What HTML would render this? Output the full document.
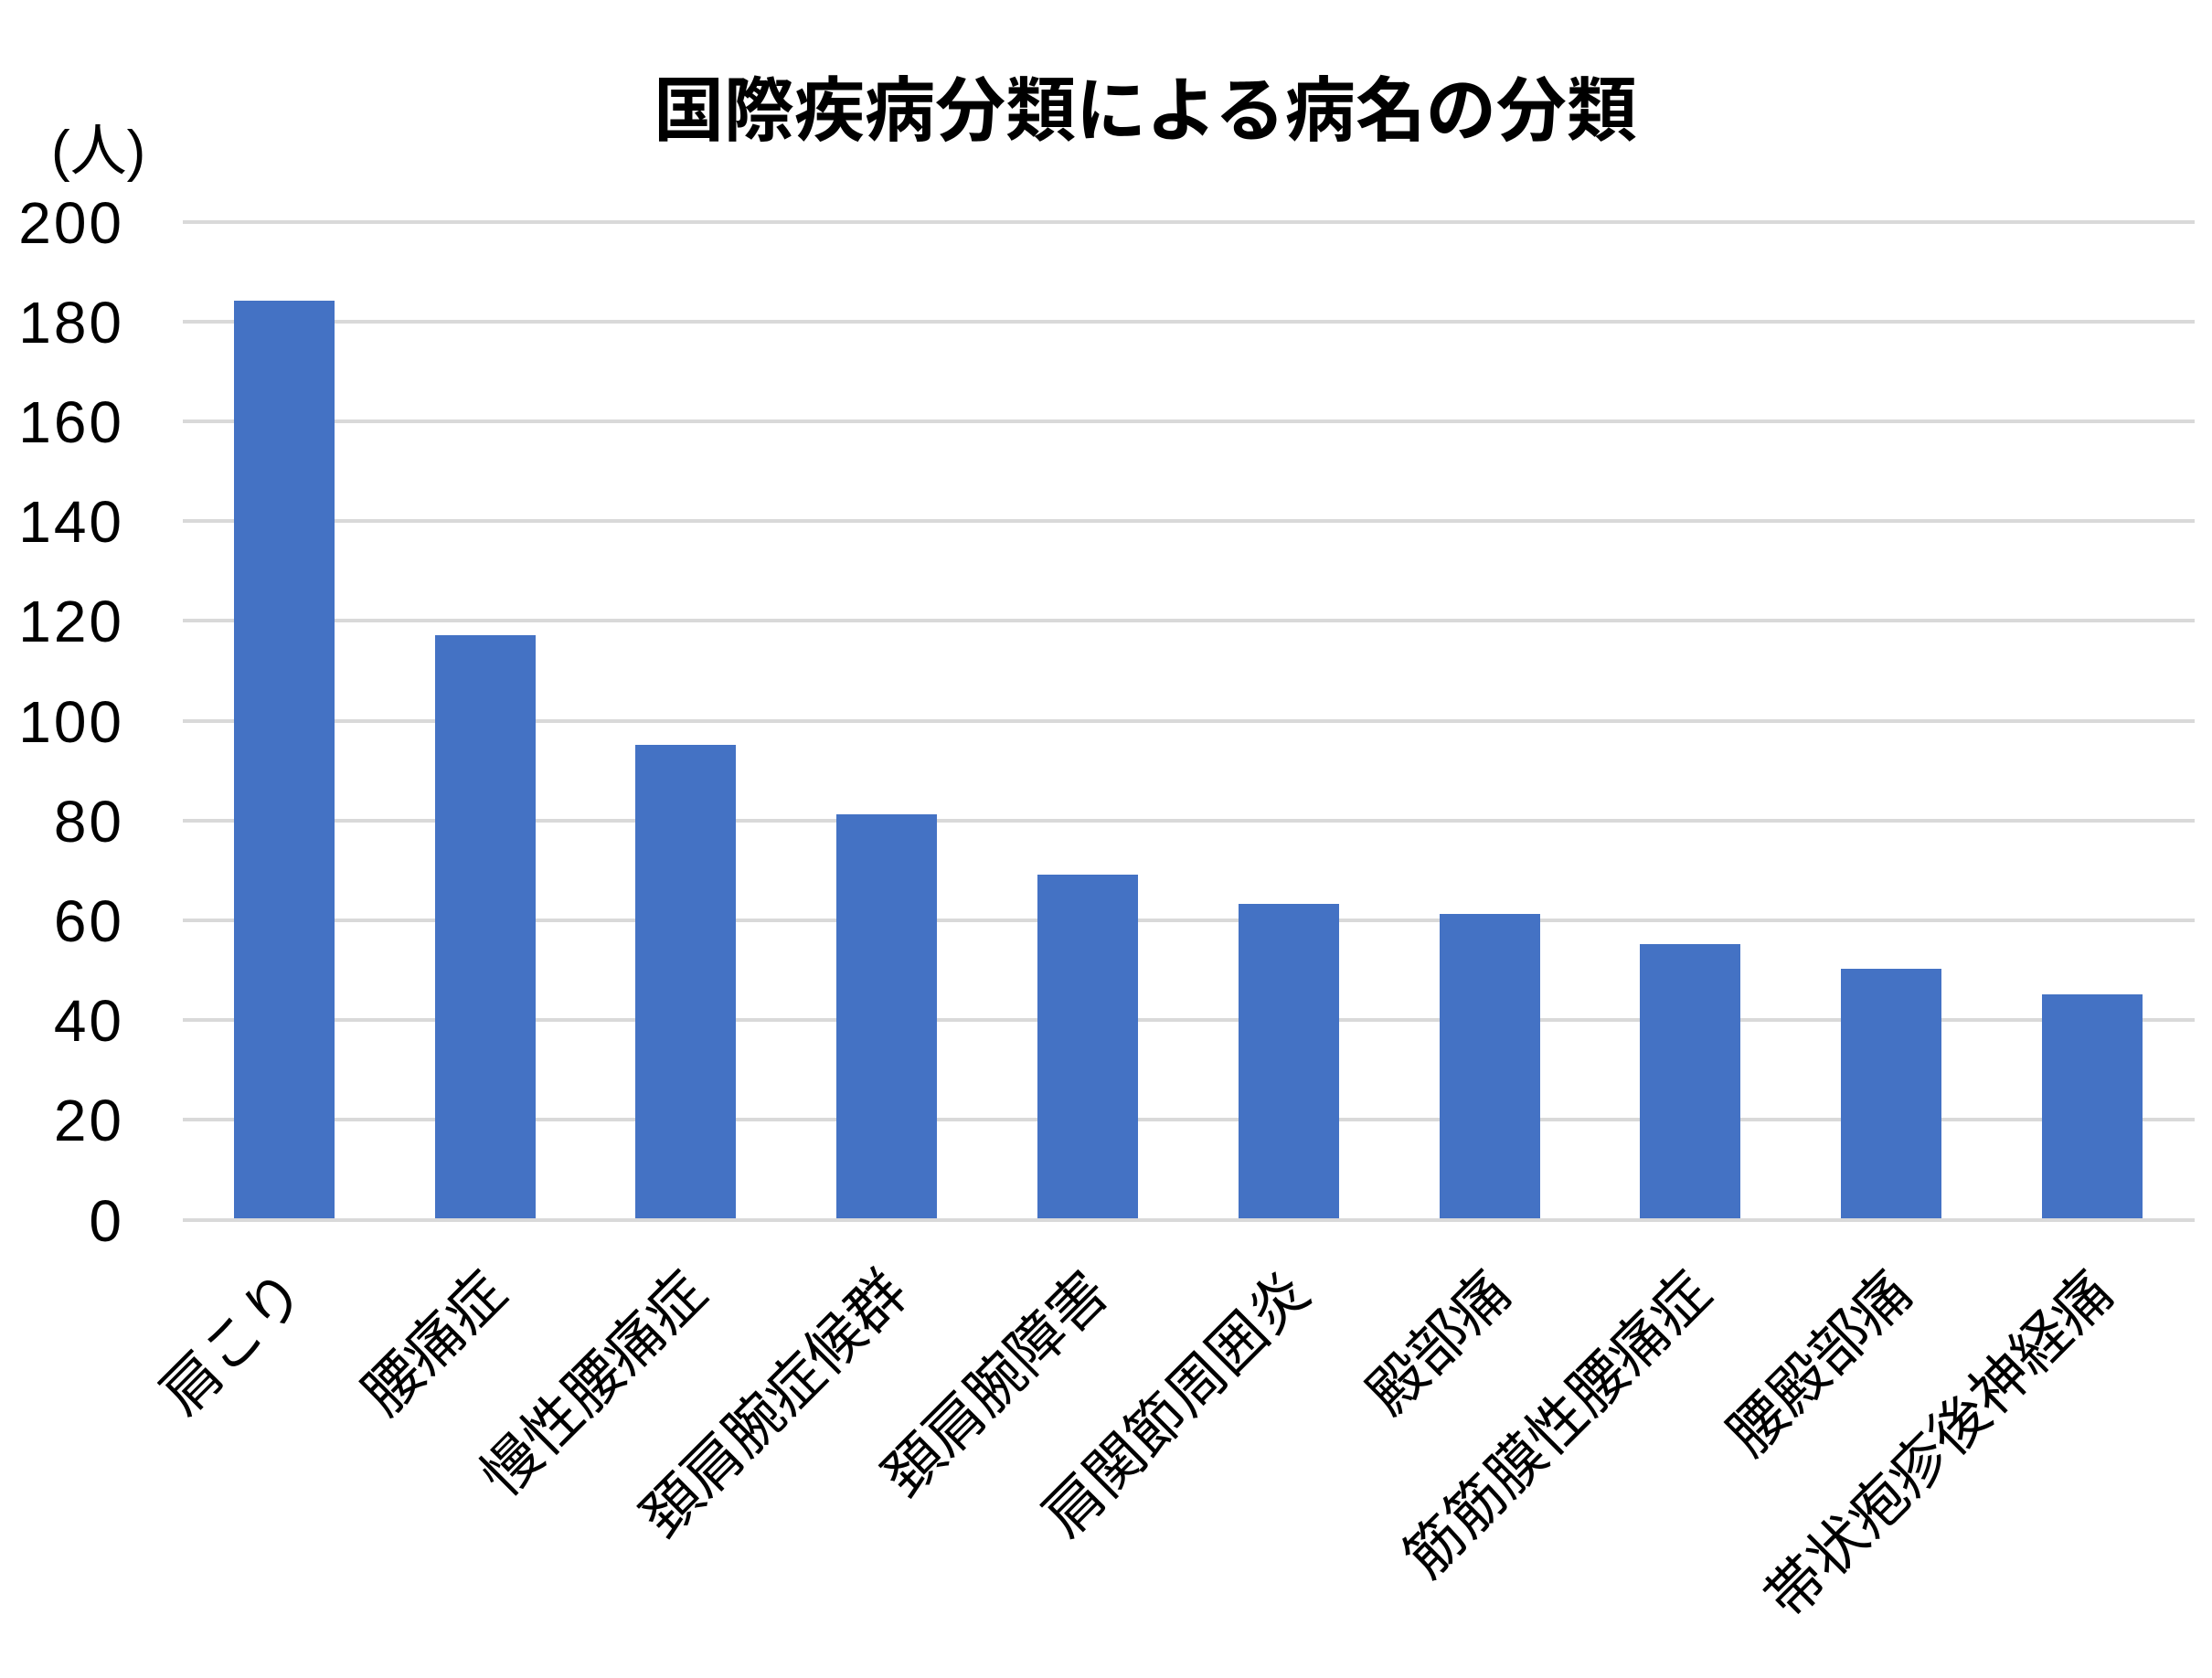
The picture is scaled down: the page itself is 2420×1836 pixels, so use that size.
<!DOCTYPE html>
<html><head><meta charset="utf-8"><style>
html,body{margin:0;padding:0;background:#fff}
svg{display:block}
text{font-family:"Liberation Sans","Noto Sans CJK JP",sans-serif;fill:#000}
</style></head><body>
<svg width="2420" height="1836" viewBox="0 0 2420 1836" xmlns="http://www.w3.org/2000/svg">
<rect width="2420" height="1836" fill="#fff"/>
<text x="1253" y="148" font-size="77" font-weight="bold" text-anchor="middle" font-family="Noto Sans CJK JP, sans-serif">国際疾病分類による病名の分類</text>
<text x="56" y="186" font-size="62" font-family="Noto Sans CJK JP, sans-serif">(人)</text>
<g stroke="#d9d9d9" stroke-width="4">
<line x1="200" x2="2401" y1="243" y2="243"/>
<line x1="200" x2="2401" y1="352" y2="352"/>
<line x1="200" x2="2401" y1="461" y2="461"/>
<line x1="200" x2="2401" y1="570" y2="570"/>
<line x1="200" x2="2401" y1="679" y2="679"/>
<line x1="200" x2="2401" y1="789" y2="789"/>
<line x1="200" x2="2401" y1="898" y2="898"/>
<line x1="200" x2="2401" y1="1007" y2="1007"/>
<line x1="200" x2="2401" y1="1116" y2="1116"/>
<line x1="200" x2="2401" y1="1225" y2="1225"/>
<line x1="200" x2="2401" y1="1335" y2="1335"/>
</g>
<g font-size="64" text-anchor="end" letter-spacing="3">
<text x="136" y="266">200</text>
<text x="136" y="375">180</text>
<text x="136" y="484">160</text>
<text x="136" y="593">140</text>
<text x="136" y="702">120</text>
<text x="136" y="812">100</text>
<text x="136" y="921">80</text>
<text x="136" y="1030">60</text>
<text x="136" y="1139">40</text>
<text x="136" y="1248">20</text>
<text x="136" y="1358">0</text>
</g>
<g fill="#4472c4">
<rect x="256" y="329" width="110" height="1004"/>
<rect x="476" y="695" width="110" height="638"/>
<rect x="695" y="815" width="110" height="518"/>
<rect x="915" y="891" width="110" height="442"/>
<rect x="1135" y="957" width="110" height="376"/>
<rect x="1355" y="989" width="110" height="344"/>
<rect x="1575" y="1000" width="110" height="333"/>
<rect x="1794" y="1033" width="110" height="300"/>
<rect x="2014" y="1060" width="110" height="273"/>
<rect x="2234" y="1088" width="110" height="245"/>
</g>
<g font-size="63" text-anchor="end" font-family="Noto Sans CJK JP, sans-serif">
<text transform="translate(337,1418) rotate(-45)">肩こり</text>
<text transform="translate(557,1418) rotate(-45)">腰痛症</text>
<text transform="translate(776,1418) rotate(-45)">慢性腰痛症</text>
<text transform="translate(996,1418) rotate(-45)">頚肩腕症候群</text>
<text transform="translate(1216,1418) rotate(-45)">頚肩腕障害</text>
<text transform="translate(1436,1418) rotate(-45)">肩関節周囲炎</text>
<text transform="translate(1656,1418) rotate(-45)">殿部痛</text>
<text transform="translate(1875,1418) rotate(-45)">筋筋膜性腰痛症</text>
<text transform="translate(2095,1418) rotate(-45)">腰殿部痛</text>
<text transform="translate(2315,1418) rotate(-45)">帯状疱疹後神経痛</text>
</g>
</svg>
</body></html>
